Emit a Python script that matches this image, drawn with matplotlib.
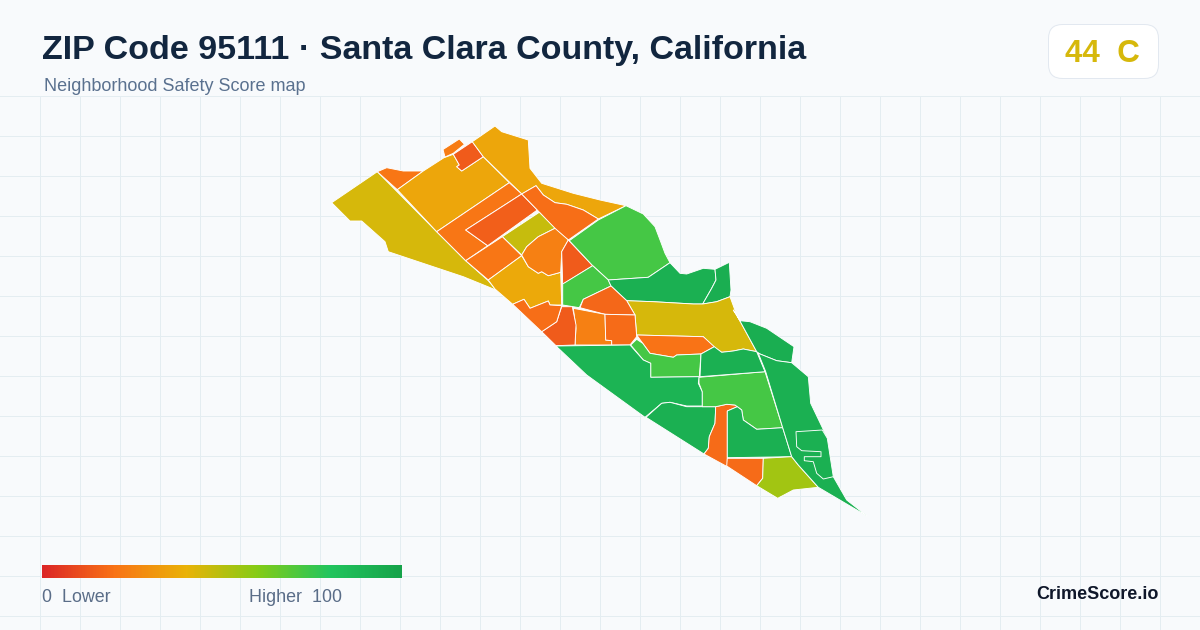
import matplotlib
matplotlib.use("Agg")
import matplotlib.pyplot as plt
from matplotlib.collections import PolyCollection
from matplotlib.colors import LinearSegmentedColormap
from matplotlib.patches import FancyBboxPatch
import numpy as np

plt.rcParams['font.family'] = ['Liberation Sans', 'DejaVu Sans']

title = "ZIP Code 95111 · Santa Clara County, California"
subtitle = "Neighborhood Safety Score map"
badge = "44  C"
brand = "CrimeScore.io"

ramp_stops = [0, 0.2, 0.4, 0.6, 0.8, 1]
ramp_colors = ["#dc2626", "#f97316", "#eab308", "#84cc16", "#22c55e", "#16a34a"]

# block group scores, same order as the outlines below
scores = [44, 21, 36, 23, 14, 36, 21, 15, 19, 47, 21, 37, 24, 14, 73, 73, 92, 93, 44, 17,
          24, 18, 14, 19, 20, 73, 90, 92, 18, 73, 92, 18, 54, 92, 93, 92, 92]

# outlines, in page pixels
outlines = [
    [(377.3,171.7),(436.7,231.7),(465.7,260.7),(488.3,280.7),(496,290),(463.3,276.7),(388.3,251.7),(385,241.7),(361.7,221),(350,221),(331.7,202.7)],
    [(377.3,171.7),(386.7,167.7),(403.3,171),(423.3,171),(397.3,189.7)],
    [(397.3,189.7),(423.3,171),(444,157.7),(453.3,154.3),(459.3,165),(456.7,166.7),(461.7,171),(483.3,156.7),(509.3,182.7),(436.7,231.7)],
    [(443,149.5),(459.3,139),(464.5,144.3),(453.3,153.3),(445,157)],
    [(453.3,154.3),(472.3,141.7),(483.3,156.7),(461.7,171),(456.7,166.7),(459.3,165)],
    [(472.3,141.7),(495,126),(501.7,131.7),(528.3,140),(530,168.3),(541.7,183.3),(573.3,193.3),(600,200),(626,205.7),(598.3,219),(583.3,210),(566.7,204.3),(555,202.7),(543.3,195),(536,185.7),(521.7,194),(483.3,156.7)],
    [(509.3,182.7),(521.7,194),(465.7,230),(487.7,245.7),(465.7,260.7),(436.7,231.7)],
    [(521.7,194),(537.3,210),(487.7,245.7),(465.7,230)],
    [(536,185.7),(543.3,195),(555,202.7),(566.7,204.3),(583.3,210),(598.3,219),(568.3,240),(555,229),(537.3,210),(521.7,194)],
    [(539.3,212.3),(555,228.3),(538.3,236.7),(526.7,246.7),(521.7,255),(502.3,236.7)],
    [(502.3,236.7),(521.7,255.7),(488.3,280),(465.7,260.7)],
    [(521.7,255.7),(528.3,266.7),(538.3,273.3),(541.7,271.7),(548.3,275.7),(560.7,272.3),(561.7,305),(550,305),(548.3,301),(530,308.3),(524,299.3),(512.7,304.3),(495,289),(488.3,280)],
    [(521.7,255),(526.7,246.7),(538.3,236.7),(555,228.3),(568.3,240),(561.7,251.7),(560.7,272.3),(548.3,275.7),(541.7,271.7),(538.3,273.3),(528.3,266.7)],
    [(568.3,240),(592.7,265.7),(562.7,284.3),(561.7,251.7)],
    [(569.3,240.7),(598.3,220),(626,205.7),(643.3,214),(655,226.7),(660.7,241.7),(665,253.3),(670,262.7),(648.3,277.3),(608.3,280),(592.7,265.7)],
    [(592.7,265.7),(608.3,280),(611,286),(583.3,299.3),(579.3,307.7),(562.7,305),(562.7,284)],
    [(608.3,280),(648.3,277.3),(670,262.7),(680,273.3),(686.7,274),(703.3,268.3),(715,269.3),(716,280),(711.7,288.3),(702.7,304),(693.3,304),(653.3,301.7),(626.7,300.7),(611,286)],
    [(715,269.3),(729.3,262.3),(731,290),(730,296.7),(716.7,301.7),(702.7,304),(711.7,288.3),(716,280)],
    [(626.7,300.7),(653.3,301.7),(693.3,304),(702.7,304),(716.7,301.7),(730,296.7),(736.7,315),(756.7,351.7),(743.3,349),(733.3,351),(721.7,352.3),(713.3,346.7),(703.3,336.7),(636.7,335),(635,315)],
    [(611,286),(626.7,300.7),(635,315),(605,314.3),(580,307.7),(583.3,299.3)],
    [(573.3,308.3),(605,314.3),(605.7,340),(611.7,340.7),(611.7,345),(575,345),(576,328.3)],
    [(605,314.3),(635,315),(636.7,336.7),(630,345),(611.7,345),(611.7,340.7),(605.7,340)],
    [(541.7,331.7),(556.7,321.7),(561.7,306.7),(572.3,306.7),(576,325),(575,345),(556,345.7)],
    [(512.7,304.3),(524,299.3),(530,308.3),(548.3,301),(550,305),(561.7,305.7),(556.7,321.7),(541.7,331.7)],
    [(636.7,335),(703.3,336.7),(714.3,346.7),(701,354),(676.7,355),(673.3,357.3),(650,353.3),(642.7,343.3)],
    [(636.7,339.3),(642.7,343.3),(650,353.3),(673.3,357.3),(676.7,355),(701,354),(699.3,376.7),(650.7,377.3),(650.7,363.3),(643.3,360),(630.7,345)],
    [(556,346),(630,345),(643.3,360),(650.7,363.3),(650.7,377.3),(699.3,376.7),(698.3,383.3),(702.3,391.7),(702.3,406),(686.7,406),(670,402.3),(661.7,403.3),(645,417.3),(586.7,375)],
    [(646,417.3),(661.7,403.3),(670,402.3),(686.7,406.7),(715.7,406.7),(715,423.3),(709.3,436.7),(708.3,448.3),(704,454)],
    [(715.7,406.7),(726.7,404.3),(735,405),(737.3,406.7),(727.3,411),(727.3,466.7),(704,454),(708.3,448.3),(709.3,436.7),(715,423.3)],
    [(699,377.3),(765,371.7),(782.7,427.7),(756.7,429.3),(743.3,420),(741.7,410),(735,405),(726.7,404.3),(715.7,406.7),(702.3,406.7),(702.3,391.7),(699,383.3)],
    [(727.3,411),(737.3,406.7),(741.7,410),(743.3,420),(756.7,429.3),(782.7,427.7),(791.7,456.7),(727.3,457.7)],
    [(727.3,458.3),(763.3,458.3),(762.7,478.3),(756.7,485.7),(726.7,466)],
    [(763.3,458.3),(791.7,456.7),(798.3,465),(818.3,487.3),(793.3,490),(777.7,498.3),(756.7,485.7),(762.7,478.3)],
    [(701,354),(714.3,346.7),(721.7,352.3),(733.3,351),(743.3,349),(756.7,351.7),(765,371.7),(700,376.7)],
    [(733.3,310),(740,320.7),(750,321.7),(766.7,328.3),(794,346.7),(791.7,362.7),(776.7,360.7),(760,354),(756.7,351.7),(736.7,315)],
    [(758.3,353.3),(776.7,360.7),(791.7,362.7),(808.3,376.7),(810.7,403.3),(826.7,436.7),(833.3,476.7),(846.7,500),(867,516),(818.3,487.3),(798.3,465),(791.7,456.7),(782.7,427.7),(765.7,371.7)],
    [(796,431.7),(822.3,430),(827.3,438.3),(833.3,476.7),(823.3,479),(816.7,473.3),(813.3,461.7),(804.3,460.7),(804.3,456.7),(821,456.7),(821,451.7),(801.7,450.7),(796.7,446.7)],
]

score_ramp = LinearSegmentedColormap.from_list("score", list(zip(ramp_stops, ramp_colors)))

fig = plt.figure(figsize=(12, 6.3), dpi=100, facecolor="#f8fafc")
ax = fig.add_axes([0, 0, 1, 1])
ax.set_xlim(0, 1200)
ax.set_ylim(630, 0)
ax.axis("off")

# background grid below the header
for x in range(40, 1200, 40):
    ax.plot([x, x], [96.5, 630], color="#e4edf1", lw=0.72, zorder=1)
for y in range(96, 630, 40):
    ax.plot([0, 1200], [y, y], color="#e4edf1", lw=0.72, zorder=1)

tracts = PolyCollection(outlines, array=np.array(scores), cmap=score_ramp, clim=(0, 100),
                        edgecolors="white", linewidths=0.65, zorder=2)
ax.add_collection(tracts)

ax.text(42, 59, title, fontsize=24.45, fontweight="bold", color="#12263f", va="baseline")
ax.text(44, 91, subtitle, fontsize=12.95, color="#5a718f", va="baseline")

# score badge
ax.add_patch(FancyBboxPatch((1048.5, 24.5), 110, 54, boxstyle="round,pad=0,rounding_size=14",
                            facecolor="white", edgecolor="#e2e8f0", lw=0.72, zorder=3))
ax.text(1065, 61.5, badge, fontsize=22.6, fontweight="bold", color=score_ramp(0.44), va="baseline", zorder=4)

# legend ramp
ax.imshow(np.linspace(0, 1, 360).reshape(1, -1), cmap=score_ramp, extent=(42, 402, 578, 565),
          aspect="auto", zorder=3)
ax.set_xlim(0, 1200)
ax.set_ylim(630, 0)
ax.text(42, 602.5, "0  Lower", fontsize=12.9, color="#5a6d88", va="baseline")
ax.text(249, 602.5, "Higher  100", fontsize=12.9, color="#5a6d88", va="baseline")
ax.text(1158.5, 599, brand, fontsize=13, fontweight="bold", color="#0f172a", ha="right", va="baseline")

fig.savefig("out.png", dpi=100, facecolor=fig.get_facecolor())
